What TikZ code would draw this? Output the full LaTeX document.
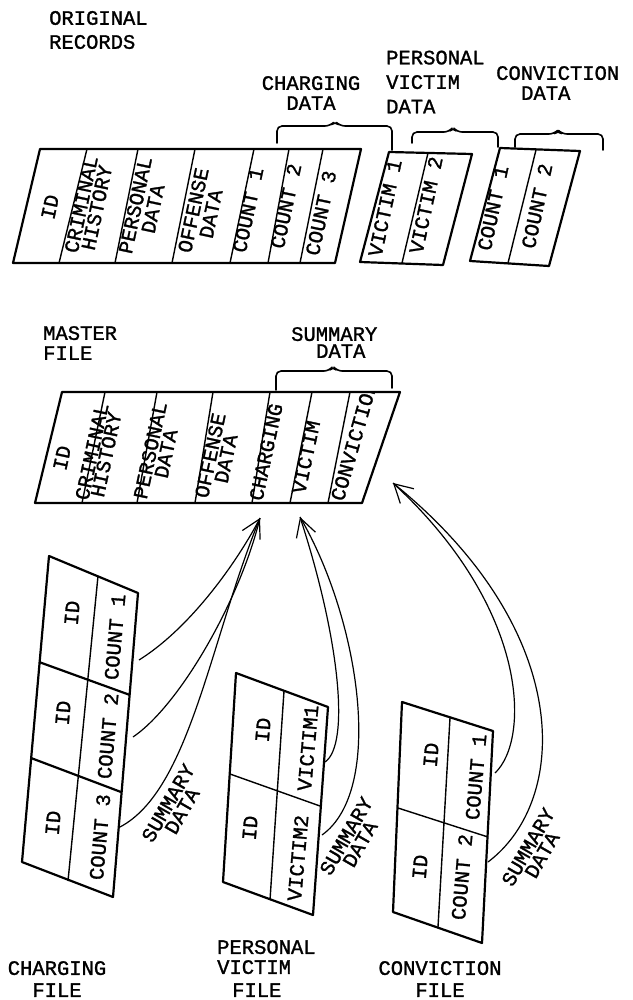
\documentclass[tikz,border=0pt]{standalone}
\usepackage{fontspec}
\newfontfamily\tw{Liberation Mono}[FakeBold=1.3]
\usetikzlibrary{arrows.meta}
\begin{document}
\begin{tikzpicture}[x=1pt,y=-1pt,
  lbl/.style={font=\tw\fontsize{20.5}{#1}\selectfont, inner sep=0pt, text=black},
  lbl/.default=22,
  cellA/.style={lbl=#1, rotate=78, align=center},
  cellA/.default=15,
  cellB/.style={lbl=#1, rotate=85, align=center},
  cellB/.default=15,
  summ/.style={lbl=16, rotate=60, align=center},
  box/.style={line width=2.2pt, line join=round},
  div/.style={line width=1.4pt},
  brace/.style={line width=1.6pt, line cap=round, line join=round, rounded corners=5pt},
  flow/.style={line width=1.2pt},
  tip/.style={-{Straight Barb[length=18pt,width=20pt]}}
]
\useasboundingbox (0,0) rectangle (632,1000);

% ---------- headings ----------
\node[lbl=24, align=left, anchor=west] (orig) at (49,30) {ORIGINAL\\RECORDS};
\node[lbl=20, align=center] (chgdata) at (311,93) {CHARGING\\DATA};
\node[lbl=24.5, align=left, anchor=west] (pvdata) at (386,82) {PERSONAL\\VICTIM\\DATA};
\node[lbl=20, align=left, anchor=west] (cvdata) at (496,83) {CONVICTION\\\hspace*{25pt}DATA};
\node[lbl=20, align=left, anchor=west] (master) at (43,343) {MASTER\\FILE};
\node[lbl=17, align=left, anchor=west] (summ) at (291,342.5) {SUMMARY\\\hspace*{25pt}DATA};
\node[lbl=22, align=center] (chgfile) at (57,979) {CHARGING\\FILE};
\node[lbl=20, align=left, anchor=west] (pvfile) at (217,968.5) {PERSONAL\\VICTIM\\[3pt]\hspace*{15pt}FILE};
\node[lbl=22, align=center] (cvfile) at (440,979) {CONVICTION\\FILE};

% ---------- braces ----------
\draw[brace] (277,143) -- (277,126) -- (330,126) -- (335,121) -- (340,126) -- (392,126) -- (392,150);
\draw[brace] (412,143) -- (412,132) -- (449,132) -- (453,127) -- (457,132) -- (498,132) -- (498,147);
\draw[brace] (515,147) -- (515,134) -- (554,134) -- (558,130) -- (562,134) -- (603,134) -- (603,150);
\draw[brace] (276,390) -- (276,371) -- (329,371) -- (333,366) -- (337,371) -- (392,371) -- (392,388);

% ---------- original records ----------
\draw[box] (40,149) -- (361,149) -- (335,263) -- (13,263) -- cycle;
\draw[div] (87,149) -- (59,263) (138,149) -- (115,263) (195,149) -- (172,263)
           (254,149) -- (230,263) (289,149) -- (268,263) (323,149) -- (300,263);
\draw[box] (389,152) -- (472,154) -- (443,265) -- (360,262) -- cycle;
\draw[div] (428,153) -- (402,263);
\draw[box] (500,148) -- (580,151) -- (549,266) -- (470,261) -- cycle;
\draw[div] (536,150) -- (508,263);

\node[cellA] (r-id) at (50,207) {ID};
\node[cellA=16] (r-ch) at (89,206) {CRIMINAL\\HISTORY};
\node[cellA=18] (r-pd) at (144,207) {PERSONAL\\DATA};
\node[cellA=18] (r-od) at (202,212) {OFFENSE\\DATA};
\node[cellA] (r-c1) at (248,210) {COUNT 1};
\node[cellA] (r-c2) at (286,206) {COUNT 2};
\node[cellA] (r-c3) at (321,213) {COUNT 3};
\node[cellA] (r-v1) at (385,208) {VICTIM 1};
\node[cellA] (r-v2) at (426,205) {VICTIM 2};
\node[cellA] (r-k1) at (493,208) {COUNT 1};
\node[cellA] (r-k2) at (537,206) {COUNT 2};

% ---------- master file ----------
\draw[box] (62,392) -- (400,392) -- (362,503) -- (35,503) -- cycle;
\draw[div] (105,392) -- (82,503) (157,392) -- (137,503) (213,392) -- (195,503)
           (270,392) -- (252,503) (312,392) -- (290,503) (350,392) -- (328,503);
\node[cellA] (m-id) at (62,458) {ID};
\node[cellA=14.5] (m-ch) at (99,453) {CRIMINAL\\HISTORY};
\node[cellA=16] (m-pd) at (158,452) {PERSONAL\\DATA};
\node[cellA=16] (m-od) at (218,457) {OFFENSE\\DATA};
\node[cellA] (m-chg) at (266,452) {CHARGING};
\node[cellA] (m-vic) at (306,457) {VICTIM};
\begin{scope}
  \clip (320,393) rectangle (410,510);
  \node[lbl, rotate=74] (m-conv) at (354,441) {CONVICTION};
\end{scope}

% ---------- charging file ----------
\draw[box] (49,556) -- (138,593) -- (113,897) -- (22,862) -- cycle;
\draw[div] (98,576) -- (68,881);
\draw[box] (39,662) -- (130,695) (31,758) -- (121,792);
\node[cellB] (c-id1) at (72,613) {ID};
\node[cellB] (c-n1) at (115,637) {COUNT 1};
\node[cellB] (c-id2) at (63,713) {ID};
\node[cellB] (c-n2) at (108,736) {COUNT 2};
\node[cellB] (c-id3) at (53,823) {ID};
\node[cellB] (c-n3) at (100,837) {COUNT 3};
\node[summ] (c-sum) at (175,807) {SUMMARY\\DATA};

% ---------- personal victim file ----------
\draw[box] (236,673) -- (328,707) -- (313,915) -- (223,882) -- cycle;
\draw[div] (284,691) -- (270,900) (230,774) -- (320,806);
\node[cellB] (v-id1) at (263,730) {ID};
\node[cellB] (v-n1) at (308,748) {VICTIM1};
\node[cellB] (v-id2) at (250,828) {ID};
\node[cellB] (v-n2) at (298,858) {VICTIM2};
\node[summ] (v-sum) at (353,840) {SUMMARY\\DATA};

% ---------- conviction file ----------
\draw[box] (402,702) -- (493,731) -- (482,943) -- (393,912) -- cycle;
\draw[div] (450,718) -- (438,927) (398,808) -- (488,837);
\node[cellB] (k-id1) at (431,755) {ID};
\node[cellB] (k-n1) at (476,777) {COUNT 1};
\node[cellB] (k-id2) at (420,867) {ID};
\node[cellB] (k-n2) at (462,877) {COUNT 2};
\node[summ] (k-sum) at (535,851) {SUMMARY\\DATA};

% ---------- connectors ----------
\coordinate (tipC) at (260,518);
\coordinate (tipV) at (300,517);
\coordinate (tipK) at (393,483);
\coordinate (c1) at (139,660);
\coordinate (c2) at (133,737);
\coordinate (c3) at (120,827);
\coordinate (v1) at (325,762);
\coordinate (v2) at (322,835);
\coordinate (k1) at (495,773);
\coordinate (k2) at (488,862);

\draw[flow, tip] (c1) .. controls (195,625) and (242,553) .. (tipC);
\draw[flow] (c2) .. controls (180,705) and (240,600) .. (tipC);
\draw[flow] (c3) .. controls (190,790) and (210,640) .. (tipC);
\draw[flow, tip] (v1) .. controls (350,745) and (340,640) .. (tipV);
\draw[flow] (v2) .. controls (385,790) and (360,620) .. (tipV);
\draw[flow, tip] (k1) .. controls (530,740) and (530,610) .. (tipK);
\draw[flow] (k2) .. controls (570,800) and (575,630) .. (tipK);
\end{tikzpicture}
\end{document}
